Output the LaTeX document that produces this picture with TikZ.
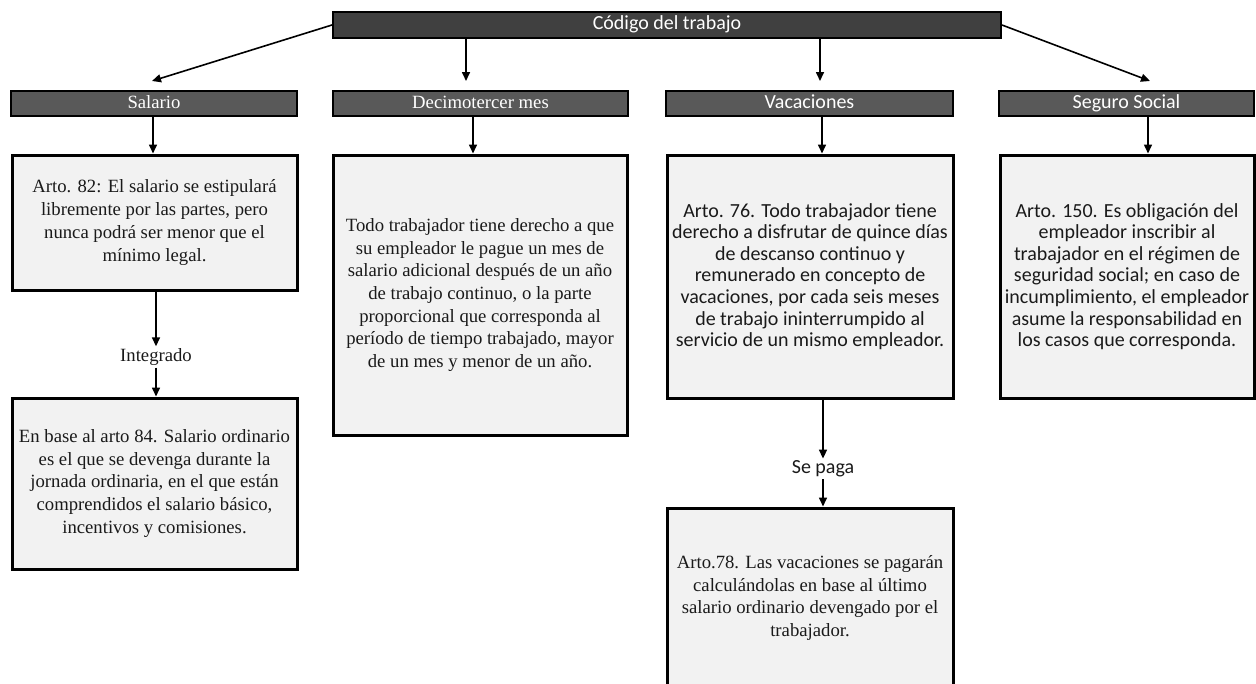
\documentclass[tikz,border=0pt]{standalone}
\usepackage{fontspec}
\setmainfont{Liberation Serif}
\newfontfamily\calfont{Carlito}
\usetikzlibrary{arrows.meta}
\definecolor{topgray}{HTML}{404040}
\definecolor{hdrgray}{HTML}{595959}
\definecolor{bodygray}{HTML}{F2F2F2}
\definecolor{txt}{HTML}{1A1A1A}
\tikzset{
  hdr/.style={draw=black, line width=2pt, fill=hdrgray, text=white, inner sep=0pt, minimum height=25pt, text height=13pt, text depth=4pt},
  body/.style={draw=black, line width=3pt, fill=bodygray, text=txt, inner sep=0pt, align=center},
  tms/.style={font=\fontsize{18.7}{22.7}\selectfont},
  cal/.style={font=\calfont\fontsize{20}{21.6}\selectfont},
  lbl/.style={text=txt, inner sep=2pt},
  arr/.style={-{Triangle[length=9pt,width=8pt]}, line width=1.6pt}
}
\begin{document}
\begin{tikzpicture}[x=1pt,y=-1pt]
\useasboundingbox (0,0) rectangle (1256,683);
% top header
\node[hdr, fill=topgray, minimum width=668pt, minimum height=26pt, cal] (top) at (667,25) {Código del trabajo};
% second-level headers
\node[hdr, minimum width=286pt, tms] (h1) at (154,103.5) {Salario};
\node[hdr, minimum width=295pt, tms] (h2) at (480.5,103.5) {Decimotercer mes};
\node[hdr, minimum width=287pt, cal] (h3) at (809.5,103.5) {Vacaciones};
\node[hdr, minimum width=255pt, cal] (h4) at (1126.5,103.5) {Seguro Social};
% bodies
\node[body, tms, minimum width=285pt, minimum height=135pt] (b1) at (154.5,222.5)
  {Arto. 82: El salario se estipulará\\libremente por las partes, pero\\nunca podrá ser menor que el\\mínimo legal.};
\node[body, tms, minimum width=285pt, minimum height=171pt] (b2) at (154.5,483.5)
  {En base al arto 84. Salario ordinario\\es el que se devenga durante la\\jornada ordinaria, en el que están\\comprendidos el salario básico,\\incentivos y comisiones.};
\node[body, tms, minimum width=294pt, minimum height=280pt] (b3) at (480,295)
  {Todo trabajador tiene derecho a que\\su empleador le pague un mes de\\salario adicional después de un año\\de trabajo continuo, o la parte\\proporcional que corresponda al\\período de tiempo trabajado, mayor\\de un mes y menor de un año.};
\node[body, cal, minimum width=286pt, minimum height=243pt] (b4) at (810,276.5)
  {Arto. 76. Todo trabajador tiene\\derecho a disfrutar de quince días\\de descanso continuo y\\remunerado en concepto de\\vacaciones, por cada seis meses\\de trabajo ininterrumpido al\\servicio de un mismo empleador.};
\node[body, tms, minimum width=286pt, minimum height=180pt] (b5) at (810,598)
  {Arto.78. Las vacaciones se pagarán\\calculándolas en base al último\\salario ordinario devengado por el\\trabajador.};
\node[body, cal, minimum width=254pt, minimum height=243pt] (b6) at (1127,276.5)
  {Arto. 150. Es obligación del\\empleador inscribir al\\trabajador en el régimen de\\seguridad social; en caso de\\incumplimiento, el empleador\\asume la responsabilidad en\\los casos que corresponda.};
% labels
\node[lbl, tms] (lint) at (156,357) {Integrado};
\node[lbl, cal] (lpaga) at (823,469) {Se paga};
% arrow end coordinates
\coordinate (e1) at (152,81);
\coordinate (e2) at (466,81);
\coordinate (e3) at (820,81);
\coordinate (e4) at (1150,81);
\coordinate (a1) at (153,0);
\coordinate (a2) at (473,0);
\coordinate (a3) at (822,0);
\coordinate (a4) at (1148,0);
% connectors from top
\draw[arr] (top.west) -- (e1);
\draw[arr] (top.south -| e2) -- (e2);
\draw[arr] (top.south -| e3) -- (e3);
\draw[arr] (top.east) -- (e4);
% header to body
\draw[arr] (h1.south -| a1) -- (b1.north -| a1);
\draw[arr] (h2.south -| a2) -- (b3.north -| a2);
\draw[arr] (h3.south -| a3) -- (b4.north -| a3);
\draw[arr] (h4.south -| a4) -- (b6.north -| a4);
% chains
\draw[arr] (b1.south -| lint) -- (lint.north);
\draw[arr] (lint.south) -- (b2.north -| lint);
\draw[arr] (b4.south -| lpaga) -- (lpaga.north);
\draw[arr] (lpaga.south) -- (b5.north -| lpaga);
\end{tikzpicture}
\end{document}
